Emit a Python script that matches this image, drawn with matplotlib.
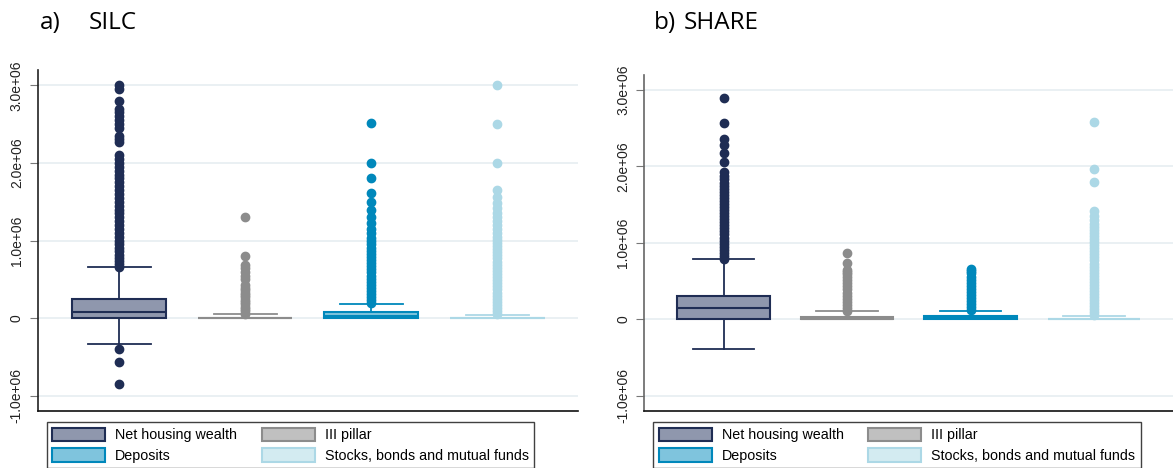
import numpy as np
import matplotlib
matplotlib.use("Agg")
import matplotlib.pyplot as plt
from matplotlib.patches import Patch

plt.rcParams['font.family'] = ['Liberation Sans', 'DejaVu Sans']

# --- data (values in millions) ---
SCALE = 1e6
categories = ['Net housing wealth', 'III pillar', 'Deposits', 'Stocks, bonds and mutual funds']

# SILC: [q1, median, q3, lower whisker, upper whisker]
silc_box = [
    [0.0, 0.085, 0.252, -0.335, 0.656],
    [0.0, 0.0, 0.008, 0.0, 0.05],
    [0.0, 0.025, 0.077, 0.0, 0.184],
    [0.0, 0.0, 0.004, 0.0, 0.04],
]
silc_fliers = [
    [-0.85, -0.566, -0.40, 0.66, 0.70, 0.74, 0.78, 0.82, 0.86, 0.90, 0.95, 1.00, 1.05, 1.10, 1.15,
     1.20, 1.25, 1.30, 1.35, 1.40, 1.45, 1.50, 1.55, 1.60, 1.65, 1.70, 1.75, 1.80, 1.85, 1.90,
     1.95, 2.00, 2.05, 2.10, 2.27, 2.31, 2.35, 2.45, 2.50, 2.55, 2.60, 2.65, 2.70, 2.80, 2.95, 3.00],
    [0.06, 0.09, 0.12, 0.15, 0.18, 0.21, 0.24, 0.27, 0.30, 0.33, 0.36, 0.39, 0.43, 0.50, 0.55,
     0.60, 0.65, 0.69, 0.80, 1.31],
    [0.19, 0.23, 0.27, 0.31, 0.35, 0.39, 0.43, 0.47, 0.51, 0.55, 0.59, 0.63, 0.67, 0.71, 0.75,
     0.79, 0.83, 0.87, 0.91, 0.95, 0.99, 1.03, 1.10, 1.15, 1.22, 1.31, 1.39, 1.50, 1.61, 1.80,
     2.00, 2.51],
    [0.05, 0.09, 0.13, 0.17, 0.21, 0.25, 0.29, 0.33, 0.37, 0.41, 0.45, 0.49, 0.53, 0.57, 0.61,
     0.65, 0.69, 0.73, 0.77, 0.81, 0.85, 0.89, 0.93, 0.97, 1.01, 1.05, 1.10, 1.15, 1.20, 1.25,
     1.31, 1.36, 1.42, 1.49, 1.56, 1.65, 2.00, 2.50, 3.00],
]

# SHARE
share_box = [
    [0.0, 0.144, 0.309, -0.385, 0.789],
    [0.0, 0.01, 0.034, 0.0, 0.109],
    [0.0, 0.02, 0.045, 0.0, 0.113],
    [0.0, 0.0, 0.005, 0.0, 0.047],
]
share_fliers = [
    [0.79, 0.83, 0.87, 0.91, 0.95, 0.99, 1.03, 1.07, 1.11, 1.15, 1.19, 1.23, 1.27, 1.31, 1.35,
     1.39, 1.43, 1.47, 1.51, 1.55, 1.59, 1.63, 1.67, 1.71, 1.75, 1.79, 1.83, 1.87, 1.93, 2.06,
     2.18, 2.28, 2.36, 2.57, 2.90],
    [0.11, 0.15, 0.19, 0.23, 0.27, 0.31, 0.35, 0.39, 0.43, 0.47, 0.51, 0.55, 0.59, 0.62, 0.645,
     0.74, 0.868],
    [0.12, 0.16, 0.20, 0.24, 0.28, 0.32, 0.36, 0.40, 0.44, 0.48, 0.52, 0.56, 0.60, 0.63, 0.658],
    [0.05, 0.09, 0.13, 0.17, 0.21, 0.25, 0.29, 0.33, 0.37, 0.41, 0.45, 0.49, 0.53, 0.57, 0.61,
     0.65, 0.69, 0.73, 0.77, 0.81, 0.85, 0.89, 0.93, 0.97, 1.01, 1.05, 1.09, 1.13, 1.17, 1.21,
     1.25, 1.30, 1.35, 1.42, 1.80, 1.97, 2.58],
]

yticks = [-1, 0, 1, 2, 3]
ytick_labels = ['-1.0e+06', '0', '1.0e+06', '2.0e+06', '3.0e+06']

# colours: (fill, edge / outlier)
fills = ['#8f97ad', '#c0c0c0', '#7fc4dd', '#d3ebf1']
edges = ['#1f2d54', '#8c8c8c', '#0088bb', '#acd8e6']

W, H = 1173, 468
fig = plt.figure(figsize=(W / 100, H / 100), dpi=100)


def draw_panel(ax, boxes, fliers, spine_color, ylo):
    for i, (b, fl) in enumerate(zip(boxes, fliers)):
        st = dict(q1=b[0] * SCALE, med=b[1] * SCALE, q3=b[2] * SCALE,
                  whislo=b[3] * SCALE, whishi=b[4] * SCALE,
                  fliers=np.array(fl) * SCALE)
        ax.bxp([st], positions=[i + 1], widths=0.75, capwidths=[0.5],
               patch_artist=True, showfliers=True,
               boxprops=dict(facecolor=fills[i], edgecolor=edges[i], linewidth=1.5),
               medianprops=dict(color=edges[i], linewidth=1.5),
               whiskerprops=dict(color=edges[i], linewidth=1.3),
               capprops=dict(color=edges[i], linewidth=1.3),
               flierprops=dict(marker='o', markerfacecolor=edges[i],
                               markeredgecolor=edges[i], markersize=6))
    ax.set_xlim(0.355, 4.64)
    ax.set_ylim(ylo * SCALE, 3.197 * SCALE)
    ax.set_yticks([v * SCALE for v in yticks])
    ax.set_yticklabels(ytick_labels, rotation=90, va='center', fontsize=10)
    ax.set_xticks([])
    ax.grid(axis='y', color='#e6eef1', linewidth=1.2)
    ax.set_axisbelow(True)
    for s in ['top', 'right']:
        ax.spines[s].set_visible(False)
    ax.spines['left'].set_color(spine_color)
    ax.spines['bottom'].set_color('#111111')
    ax.spines['left'].set_linewidth(1.2)
    ax.spines['bottom'].set_linewidth(1.2)
    ax.tick_params(axis='y', length=6, color='#777777', pad=4, labelcolor='#222222')


ax1 = fig.add_axes([37.7 / W, 1 - 411 / H, (578 - 37.7) / W, (411 - 70) / H])
draw_panel(ax1, silc_box, silc_fliers, '#222222', -1.195)

ax2 = fig.add_axes([644 / W, 1 - 411 / H, (1173 - 644) / W, (411 - 75) / H])
draw_panel(ax2, share_box, share_fliers, '#666666', -1.2)

title_font = dict(fontsize=17.5, va='center', ha='left', family=['Open Sans', 'DejaVu Sans'])
fig.text(40 / W, 1 - 23 / H, 'a)', **title_font)
fig.text(89 / W, 1 - 23 / H, 'SILC', **title_font)
fig.text(654 / W, 1 - 23 / H, 'b)', **title_font)
fig.text(684 / W, 1 - 23 / H, 'SHARE', **title_font)

# legends
handles = [Patch(facecolor=fills[i], edgecolor=edges[i], linewidth=1.5) for i in range(4)]
order = [0, 2, 1, 3]
for x0 in [46.7, 653]:
    leg = fig.legend([handles[k] for k in order], [categories[k] for k in order],
                     loc='upper left', bbox_to_anchor=(x0 / W, 1 - 422 / H),
                     ncol=2, fontsize=10.3, frameon=True, fancybox=False,
                     edgecolor='#111111', borderaxespad=0, borderpad=0.4,
                     handlelength=3.7, handleheight=1.05, handletextpad=0.7,
                     columnspacing=1.7, labelspacing=0.42)
    leg.get_frame().set_linewidth(1.0)

fig.savefig('out.png', dpi=100)
